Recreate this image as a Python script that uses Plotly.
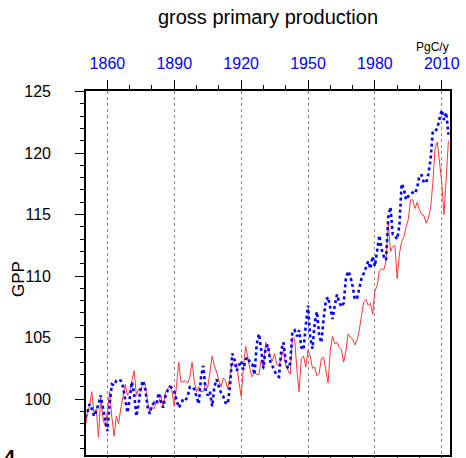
import plotly.graph_objects as go

# Annual gross primary production (PgC/y), 1850-2013
years = list(range(1850, 2014))

gpp_red = [
    97.6, 98.8, 99.5, 100.6, 98.8, 99.2, 96.9, 100.2, 98.4, 97.8,      # 1850s
    99.0, 100.6, 98.5, 97.0, 98.6, 98.0, 99.2, 100.4, 101.2, 100.3,    # 1860s
    100.6, 101.5, 102.3, 100.3, 100.8, 100.6, 101.4, 101.2, 99.8, 99.0,  # 1870s
    99.4, 99.2, 99.8, 99.7, 100.3, 99.4, 100.5, 100.8, 101.1, 100.6,   # 1880s
    99.4, 101.1, 103.0, 101.4, 101.4, 101.5, 101.3, 101.8, 103.0, 101.4,  # 1890s
    100.6, 101.0, 100.6, 100.6, 101.2, 100.9, 102.2, 103.5, 102.7, 102.2,  # 1900s
    101.5, 101.0, 101.7, 101.5, 100.8, 101.8, 103.0, 102.7, 102.9, 101.4,  # 1910s
    100.2, 102.5, 104.3, 103.4, 102.4, 101.8, 102.2, 102.0, 102.0, 103.2,  # 1920s
    102.4, 104.6, 104.3, 103.4, 103.1, 103.7, 102.8, 102.7, 103.4, 104.0,  # 1930s
    102.7, 102.3, 102.0, 105.0, 104.9, 102.4, 100.6, 103.3, 103.5, 102.6,  # 1940s
    104.0, 103.5, 102.5, 102.6, 101.9, 102.1, 103.3, 103.4, 102.4, 101.3,  # 1950s
    104.0, 105.1, 104.5, 104.6, 104.2, 104.0, 103.0, 103.9, 105.3, 105.0,  # 1960s
    104.9, 104.4, 104.8, 105.6, 106.8, 107.9, 108.1, 107.6, 107.8, 106.9,  # 1970s
    108.8, 109.2, 110.4, 110.6, 110.5, 111.2, 114.4, 112.0, 112.4, 112.5,  # 1980s
    109.8, 111.8, 112.8, 113.2, 114.0, 114.6, 116.2, 116.2, 115.5, 116.0,  # 1990s
    115.4, 115.0, 114.9, 114.3, 114.7, 115.5, 117.6, 120.4, 120.9, 119.3,  # 2000s
    117.6, 115.0, 117.8, 121.0,                                          # 2010-2013
]

gpp_blue = [
    98.5, 98.9, 99.6, 99.2, 98.6, 99.0, 99.6, 100.3, 99.3, 98.2,       # 1850s
    97.4, 99.6, 101.2, 101.1, 101.5, 101.6, 101.5, 101.0, 100.0, 98.9,  # 1860s
    100.0, 101.4, 100.4, 98.6, 99.6, 101.0, 101.5, 100.8, 99.4, 98.8,   # 1870s
    99.5, 99.7, 99.6, 100.5, 99.8, 99.3, 100.2, 100.7, 101.0, 100.9,    # 1880s
    100.6, 100.0, 99.3, 99.6, 100.0, 99.9, 100.2, 101.0, 101.0, 100.8,  # 1890s
    100.2, 99.6, 101.8, 102.7, 100.8, 100.3, 100.6, 99.4, 101.0, 101.6,  # 1900s
    101.0, 100.5, 100.2, 99.7, 99.6, 101.0, 103.7, 103.2, 102.3, 102.7,  # 1910s
    103.1, 102.4, 103.2, 103.4, 102.9, 102.8, 102.0, 104.5, 105.3, 104.0,  # 1920s
    102.5, 104.2, 104.4, 103.1, 102.7, 102.2, 101.9, 101.8, 104.0, 104.6,  # 1930s
    103.1, 102.5, 102.9, 105.5, 105.6, 105.1, 105.6, 104.2, 104.0, 106.0,  # 1940s
    107.6, 105.0, 104.1, 106.2, 107.1, 105.2, 104.6, 106.5, 108.0, 108.3,  # 1950s
    107.3, 106.5, 107.6, 108.5, 107.9, 107.5, 107.8, 109.8, 110.4, 110.0,  # 1960s
    109.2, 108.1, 108.2, 108.9, 109.8, 110.2, 110.7, 111.2, 110.6, 111.6,  # 1970s
    110.8, 112.0, 113.3, 112.2, 111.6, 111.3, 114.8, 115.6, 113.4, 113.3,  # 1980s
    113.0, 114.1, 117.5, 117.1, 116.2, 116.5, 116.7, 116.8, 116.7, 117.2,  # 1990s
    118.2, 118.2, 117.6, 117.6, 118.3, 119.5, 121.8, 121.8, 122.0, 122.8,  # 2000s
    123.5, 122.7, 123.3, 121.5,                                          # 2010-2013
]

x_ticks = [1860, 1890, 1920, 1950, 1980, 2010]
y_ticks = [100, 105, 110, 115, 120, 125]

W, H = 466, 458
L, R, T, B = 86, 16, 91, 3
FONT = "Liberation Sans, Arial, Helvetica, sans-serif"

fig = go.Figure()
fig.add_trace(go.Scatter(
    x=years, y=gpp_red, mode="lines",
    line=dict(color="#ff3636", width=1.0),
    showlegend=False,
))
fig.add_trace(go.Scatter(
    x=years, y=gpp_blue, mode="lines",
    line=dict(color="#0000ff", width=2.6, dash="dot"),
    showlegend=False,
))

fig.update_layout(
    width=W, height=H,
    margin=dict(l=L, r=R, t=T, b=B, autoexpand=False),
    paper_bgcolor="white", plot_bgcolor="white",
    font=dict(family=FONT, color="black"),
    title=dict(
        text="gross primary production",
        font=dict(size=20, color="black", family=FONT),
        x=268 / W, xanchor="center", xref="container",
        y=1 - 17 / H, yanchor="middle",
    ),
    xaxis=dict(
        range=[1850.4, 2013.7],
        side="top",
        tickmode="array", tickvals=x_ticks,
        ticktext=[str(v) for v in x_ticks],
        tickfont=dict(size=16, color="#0000ff", family=FONT),
        ticks="outside", ticklen=9, tickwidth=1.3, tickcolor="black",
        ticklabelstandoff=5,
        minor=dict(dtick=10, tick0=1850, ticks="outside", ticklen=4,
                   tickwidth=1, tickcolor="black", showgrid=False),
        showline=True, linecolor="black", linewidth=1.6, mirror="ticks",
        showgrid=True, gridcolor="#8a8a8a", gridwidth=1, griddash="3px,3px",
        zeroline=False,
    ),
    yaxis=dict(
        range=[95.45, 125.05],
        tickmode="array", tickvals=y_ticks,
        ticktext=[str(v) for v in y_ticks],
        tickfont=dict(size=16, color="black", family=FONT),
        ticks="outside", ticklen=9, tickwidth=1.3, tickcolor="black",
        ticklabelstandoff=21,
        minor=dict(dtick=1, tick0=95, ticks="outside", ticklen=4,
                   tickwidth=1, tickcolor="black", showgrid=False),
        showline=True, linecolor="black", linewidth=1.6, mirror=True,
        showgrid=False, zeroline=False,
    ),
)

pw = W - L - R
ph = H - T - B


def px_x(px):
    return (px - L) / pw


def px_y(py):
    return (H - B - py) / ph


fig.add_annotation(
    text="GPP", textangle=-90, showarrow=False,
    xref="paper", yref="paper", x=px_x(18), y=px_y(279),
    xanchor="center", yanchor="middle",
    font=dict(size=17, color="black", family=FONT),
)
fig.add_annotation(
    text="PgC/y", showarrow=False,
    xref="paper", yref="paper", x=px_x(451), y=px_y(47),
    xanchor="right", yanchor="middle",
    font=dict(size=12, color="black", family=FONT),
)
fig.add_annotation(
    text="<b>4</b>", showarrow=False,
    xref="paper", yref="paper", x=px_x(2), y=px_y(444),
    xanchor="left", yanchor="top",
    font=dict(size=20, color="black", family=FONT),
)

fig.write_html("out.html")
